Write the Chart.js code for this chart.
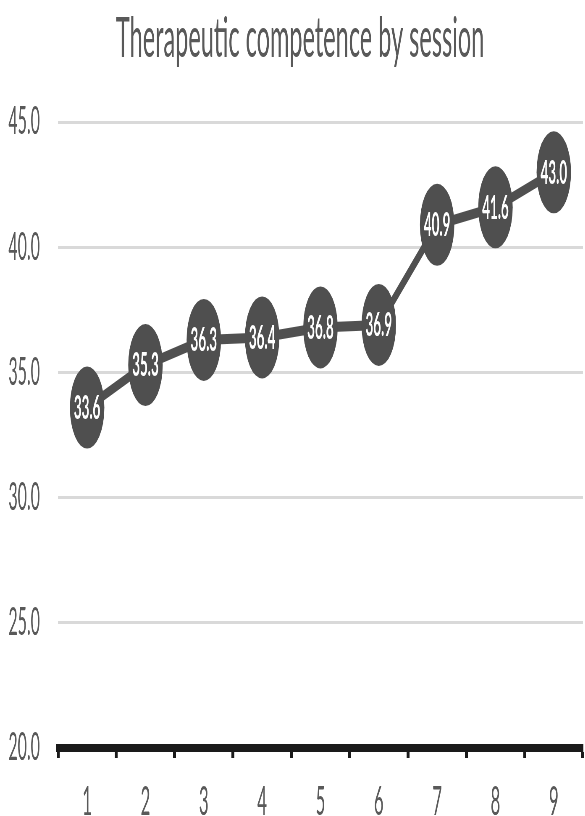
<!DOCTYPE html>
<html>
<head>
<meta charset="utf-8">
<script src="https://cdn.jsdelivr.net/npm/chart.js@4.4.1/dist/chart.umd.min.js"></script>
<style>
  html, body { margin: 0; padding: 0; background: #fff; overflow: hidden; }
  #wrap { width: 585px; height: 816px; overflow: hidden; }
  #chart { transform: scaleX(0.42); transform-origin: 0 0; }
</style>
</head>
<body>
<div id="wrap"><canvas id="chart" width="1429" height="816"></canvas></div>
<script>
var sessions = ["1", "2", "3", "4", "5", "6", "7", "8", "9"];
var competence = [33.6, 35.3, 36.3, 36.4, 36.8, 36.9, 40.9, 41.6, 43.0];
var yTicks = [20, 25, 30, 35, 40, 45];

// white value labels on top of the markers
var valueLabels = {
  id: "valueLabels",
  afterDatasetsDraw: function(chart) {
    var ctx = chart.ctx;
    var meta = chart.getDatasetMeta(0);
    ctx.save();
    ctx.font = "bold 32px Lato";
    ctx.fillStyle = "#ffffff";
    ctx.textAlign = "center";
    ctx.textBaseline = "middle";
    meta.data.forEach(function(pt, i) {
      ctx.fillText(competence[i].toFixed(1), pt.x, pt.y + 1);
    });
    ctx.restore();
  }
};

var ctx = document.getElementById("chart");
var chart = new Chart(ctx, {
  type: "line",
  data: {
    labels: sessions,
    datasets: [{
      label: "Therapeutic competence",
      data: competence,
      borderColor: "#505050",
      backgroundColor: "#4f4f4f",
      borderWidth: 10,
      pointRadius: 41,
      pointBorderWidth: 0,
      pointBackgroundColor: "#4f4f4f",
      tension: 0,
      fill: false
    }]
  },
  options: {
    responsive: false,
    animation: false,
    layout: { padding: { left: 0, right: 0, top: 0, bottom: 0 } },
    plugins: {
      legend: { display: false },
      tooltip: { enabled: false },
      title: {
        display: true,
        text: "Therapeutic competence by session",
        color: "#595959",
        font: { family: "Lato", size: 56, weight: "normal" },
        padding: { top: 5, bottom: 50 }
      }
    },
    scales: {
      x: {
        offset: true,
        grid: {
          offset: true,
          drawOnChartArea: false,
          tickLength: 10,
          tickWidth: 7,
          tickColor: "#1a1a1a"
        },
        border: { color: "#1a1a1a", width: 8 },
        ticks: {
          color: "#595959",
          font: { family: "Lato", size: 40 },
          padding: 20
        },
        afterFit: function(scale) { scale.height = 68; }
      },
      y: {
        min: 20,
        max: 45,
        afterBuildTicks: function(scale) {
          scale.ticks = yTicks.map(function(v) { return { value: v }; });
        },
        grid: { color: "#d9d9d9", lineWidth: 3, drawTicks: false },
        border: { display: false },
        ticks: {
          color: "#595959",
          font: { family: "Lato", size: 38 },
          padding: 43,
          callback: function(v) { return Number(v).toFixed(1); }
        },
        afterFit: function(scale) { scale.width = 138; }
      }
    }
  },
  plugins: [valueLabels]
});
</script>
</body>
</html>
